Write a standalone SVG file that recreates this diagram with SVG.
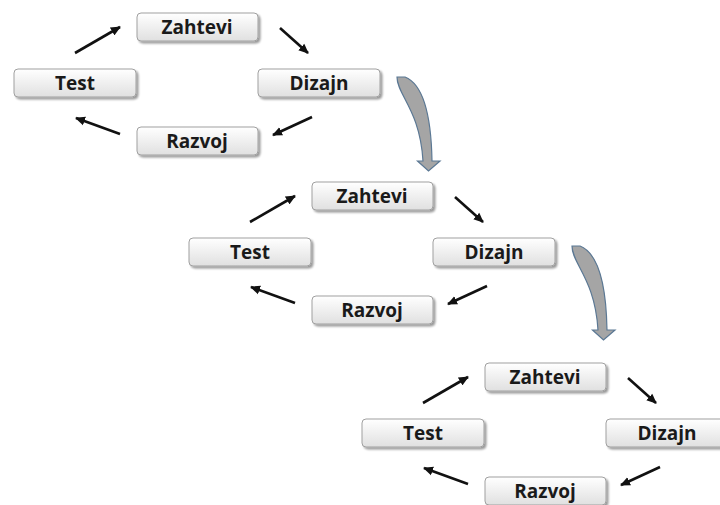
<svg xmlns="http://www.w3.org/2000/svg" width="720" height="505" viewBox="0 0 720 505">
  <defs>
    <linearGradient id="boxFill" x1="0" y1="0" x2="0" y2="1">
      <stop offset="0" stop-color="#ffffff"/>
      <stop offset="1" stop-color="#e0e0e0"/>
    </linearGradient>
    <filter id="shadow" x="-10%" y="-20%" width="125%" height="160%">
      <feGaussianBlur in="SourceAlpha" stdDeviation="1.2"/>
      <feOffset dx="1.5" dy="2" result="b"/>
      <feComponentTransfer><feFuncA type="linear" slope="0.4"/></feComponentTransfer>
      <feMerge><feMergeNode/><feMergeNode in="SourceGraphic"/></feMerge>
    </filter>
    <marker id="head" viewBox="0 0 10 10" refX="9" refY="5" markerWidth="10" markerHeight="10" markerUnits="userSpaceOnUse" orient="auto">
      <path d="M0,0.5 L10,5 L0,9.5 Z" fill="#111"/>
    </marker>
    <!-- curved block arrow linking one cycle to the next -->
    <path id="bend" d="M397,77 L405,77 C420,83 431,105 432,161 L440,161 L428.5,171 L417.5,161 L423,161 C420,110 397,95 397,77 Z"/>
  </defs>
  <style>
    .box { fill: url(#boxFill); stroke: #a0a0a0; stroke-width: 1; filter: url(#shadow); }
    .lbl { font-family: "Open Sans", "Liberation Sans", sans-serif; font-weight: bold; font-size: 19px; fill: #1a1a1a; text-anchor: middle; }
    .flow { stroke: #111; stroke-width: 2.6; fill: none; marker-end: url(#head); }
    .bend { fill: #a5a5a5; stroke: #5b7894; stroke-width: 1.2; }
  </style>

  <rect width="720" height="505" fill="#ffffff"/>

  <!-- first cycle -->
  <g id="cycle1">
    <g id="c1-zahtevi"><rect class="box" x="137" y="13" width="121" height="28" rx="4"/><text class="lbl" x="197" y="34">Zahtevi</text></g>
    <g id="c1-test"><rect class="box" x="14" y="69" width="122" height="28" rx="4"/><text class="lbl" x="75" y="90">Test</text></g>
    <g id="c1-dizajn"><rect class="box" x="258" y="69" width="122" height="28" rx="4"/><text class="lbl" x="319" y="90">Dizajn</text></g>
    <g id="c1-razvoj"><rect class="box" x="137" y="127" width="121" height="28" rx="4"/><text class="lbl" x="197" y="148">Razvoj</text></g>
    <g id="c1-connectors">
      <line class="flow" x1="75" y1="53" x2="120" y2="27"/>
      <line class="flow" x1="280" y1="28" x2="308" y2="53"/>
      <line class="flow" x1="312" y1="117" x2="273" y2="135"/>
      <line class="flow" x1="120" y1="134" x2="76" y2="118"/>
    </g>
  </g>

  <!-- second cycle -->
  <g id="cycle2" transform="translate(175,169)">
    <g id="c2-zahtevi"><rect class="box" x="137" y="13" width="121" height="28" rx="4"/><text class="lbl" x="197" y="34">Zahtevi</text></g>
    <g id="c2-test"><rect class="box" x="14" y="69" width="122" height="28" rx="4"/><text class="lbl" x="75" y="90">Test</text></g>
    <g id="c2-dizajn"><rect class="box" x="258" y="69" width="122" height="28" rx="4"/><text class="lbl" x="319" y="90">Dizajn</text></g>
    <g id="c2-razvoj"><rect class="box" x="137" y="127" width="121" height="28" rx="4"/><text class="lbl" x="197" y="148">Razvoj</text></g>
    <g id="c2-connectors">
      <line class="flow" x1="75" y1="53" x2="120" y2="27"/>
      <line class="flow" x1="280" y1="28" x2="308" y2="53"/>
      <line class="flow" x1="312" y1="117" x2="273" y2="135"/>
      <line class="flow" x1="120" y1="134" x2="76" y2="118"/>
    </g>
  </g>

  <!-- third cycle -->
  <g id="cycle3" transform="translate(348,350)">
    <g id="c3-zahtevi"><rect class="box" x="137" y="13" width="121" height="28" rx="4"/><text class="lbl" x="197" y="34">Zahtevi</text></g>
    <g id="c3-test"><rect class="box" x="14" y="69" width="122" height="28" rx="4"/><text class="lbl" x="75" y="90">Test</text></g>
    <g id="c3-dizajn"><rect class="box" x="258" y="69" width="122" height="28" rx="4"/><text class="lbl" x="319" y="90">Dizajn</text></g>
    <g id="c3-razvoj"><rect class="box" x="137" y="127" width="121" height="28" rx="4"/><text class="lbl" x="197" y="148">Razvoj</text></g>
    <g id="c3-connectors">
      <line class="flow" x1="75" y1="53" x2="120" y2="27"/>
      <line class="flow" x1="280" y1="28" x2="308" y2="53"/>
      <line class="flow" x1="312" y1="117" x2="273" y2="135"/>
      <line class="flow" x1="120" y1="134" x2="76" y2="118"/>
    </g>
  </g>

  <!-- block arrows between cycles -->
  <g id="transitions">
    <use href="#bend" class="bend"/>
    <use href="#bend" class="bend" transform="translate(175,169)"/>
  </g>
</svg>
